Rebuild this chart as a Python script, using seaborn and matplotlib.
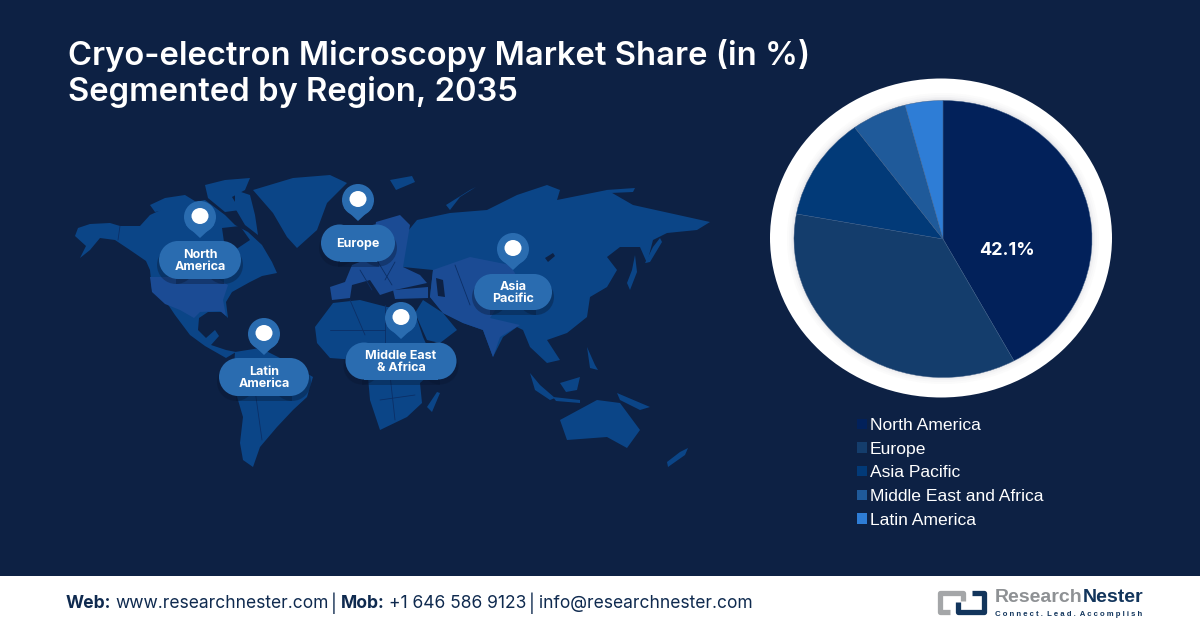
import matplotlib
matplotlib.use('Agg')
import matplotlib.pyplot as plt
import seaborn as sns
from matplotlib.patches import Ellipse, Polygon, Rectangle, Circle

# chart data
regions = ['North America', 'Europe', 'Asia Pacific', 'Middle East and Africa', 'Latin America']
shares = [42.1, 35.8, 12.0, 6.0, 4.1]
slice_colors = ['#02215A', '#143D6C', '#023A78', '#1F5A9A', '#2E7DD6']
shown_label = '42.1%'

title_lines = ['Cryo-electron Microscopy Market Share (in %)', 'Segmented by Region, 2035']
pin_labels = ['North\nAmerica', 'Europe', 'Asia\nPacific', 'Middle East\n& Africa', 'Latin\nAmerica']
pin_x = [200, 358, 513, 401, 264]
pin_y = [217, 200, 249, 318, 334]
pill_w = [82, 74, 78, 111, 90]
pill_h = [38, 37, 36, 37, 38]

BG = '#0D2144'
LAND = '#0B4587'
LAND2 = '#1B4B94'
PILL = '#2A6CB0'
NAVY = '#0F2A4F'

# hand traced backdrop map, in picture pixels
land_shapes = [
    [(75, 236), (78, 228), (90, 224), (110, 223), (120, 226), (140, 226), (150, 215), (165, 208), (180, 205),
     (205, 200), (225, 215), (235, 225), (248, 232), (262, 245), (272, 262), (277, 273), (262, 276), (250, 282),
     (232, 292), (226, 302), (228, 318), (222, 312), (208, 312), (199, 318), (198, 330), (206, 338), (215, 330),
     (219, 336), (211, 345), (226, 350), (236, 352), (226, 358), (205, 346), (190, 335), (175, 315), (165, 300),
     (152, 290), (150, 270), (146, 261), (130, 250), (115, 240), (100, 238), (90, 250), (80, 258), (86, 246)],
    [(253, 190), (293, 178), (330, 175), (347, 183), (327, 203), (317, 230), (297, 248), (287, 237), (273, 213)],
    [(205, 185), (225, 180), (250, 178), (245, 190), (232, 197), (240, 210), (225, 212), (208, 198)],
    [(150, 205), (165, 198), (185, 195), (198, 203), (175, 208), (155, 212)],
    [(235, 190), (250, 195), (255, 215), (258, 235), (245, 225), (235, 208)],
    [(235, 352), (260, 348), (280, 358), (313, 377), (307, 397), (293, 410), (277, 427), (260, 447), (253, 467),
     (243, 460), (240, 443), (243, 417), (233, 383)],
    [(315, 327), (333, 303), (360, 300), (387, 307), (413, 307), (423, 337), (437, 368), (420, 383), (422, 403),
     (407, 417), (380, 430), (370, 400), (368, 377), (357, 360), (330, 358), (317, 343)],
    [(423, 300), (443, 313), (457, 330), (440, 343), (427, 340), (415, 313)],
    [(437, 392), (440, 393), (432, 412), (427, 407)],
    [(403, 237), (417, 220), (450, 213), (487, 210), (517, 195), (547, 185), (560, 190), (557, 200), (607, 190),
     (633, 205), (710, 222), (697, 230), (667, 233), (653, 240), (647, 263), (640, 247), (620, 247), (607, 257),
     (617, 270), (607, 287), (590, 297), (587, 317), (567, 333), (547, 340), (560, 360), (547, 363), (530, 347),
     (523, 330), (517, 327), (503, 337), (493, 357), (483, 330), (463, 323), (443, 313), (430, 297), (433, 270),
     (403, 267)],
    [(560, 420), (597, 400), (620, 403), (640, 430), (627, 448), (607, 437), (567, 440)],
    [(688, 448), (685, 455), (668, 467), (667, 462), (680, 452)],
    [(530, 373), (540, 385), (555, 398), (550, 400), (535, 390)],
    [(560, 383), (580, 377), (577, 390), (566, 392)],
    [(553, 397), (580, 400), (580, 403), (556, 401)],
    [(587, 347), (595, 365), (598, 370), (590, 368)],
    [(617, 393), (650, 407), (640, 410), (620, 400)],
    [(645, 263), (653, 247), (660, 238), (662, 242), (650, 262)],
    [(635, 255), (637, 272), (630, 290), (627, 283), (632, 270)],
    [(446, 205), (470, 190), (476, 187), (460, 197), (450, 210)],
    [(390, 180), (412, 176), (415, 182), (396, 190)],
    [(606, 190), (635, 188), (633, 192), (610, 193)],
]
lighter_shapes = [
    [(150, 277), (215, 277), (228, 285), (223, 300), (226, 316), (220, 311), (200, 312), (194, 318), (180, 310),
     (165, 304), (152, 292)],
    [(433, 270), (470, 257), (510, 265), (522, 285), (503, 298), (490, 318), (520, 325), (500, 337), (493, 357),
     (483, 330), (463, 323), (443, 313), (430, 297)],
    [(376, 222), (400, 215), (410, 225), (403, 267), (420, 275), (427, 283), (395, 290), (380, 295), (370, 280),
     (352, 285), (350, 298), (332, 300), (330, 287), (345, 282), (352, 265), (370, 258)],
    [(393, 290), (428, 287), (428, 298), (395, 299)],
]
water_shapes = [
    [(222, 228), (240, 226), (250, 240), (235, 250), (224, 242)],
    [(436, 278), (443, 280), (445, 297), (438, 296)],
    [(545, 258), (553, 253), (555, 256), (548, 262)],
]
border_lines = [
    [(360, 270), (372, 290)], [(378, 262), (392, 285)], [(395, 262), (385, 280)], [(350, 300), (365, 335)],
    [(385, 305), (385, 345)], [(330, 330), (385, 330)], [(455, 265), (470, 305)], [(480, 285), (510, 300)],
    [(380, 400), (415, 395)], [(390, 375), (395, 420)], [(245, 385), (285, 390)], [(255, 390), (262, 440)],
    [(120, 226), (118, 240)],
]

sns.set_theme(style='white')
plt.rcParams['font.family'] = ['Inter', 'DejaVu Sans']

fig = plt.figure(figsize=(12, 6.28), dpi=100, facecolor=BG)
ax = fig.add_axes([0, 0, 1, 1])
ax.set_xlim(0, 1200)
ax.set_ylim(628, 0)
ax.axis('off')


def add_pill(ax, x, y, w, h, color, zorder, alpha=1.0):
    r = h / 2
    ax.add_patch(Rectangle((x - w / 2 + r, y - r), w - h, h, fc=color, ec='none', zorder=zorder, alpha=alpha))
    ax.add_patch(Ellipse((x - w / 2 + r, y), h, h, fc=color, ec='none', zorder=zorder, alpha=alpha))
    ax.add_patch(Ellipse((x + w / 2 - r, y), h, h, fc=color, ec='none', zorder=zorder, alpha=alpha))


# map
for shape in land_shapes:
    ax.add_patch(Polygon(shape, closed=True, fc=LAND, ec='none', zorder=1))
for shape in lighter_shapes:
    ax.add_patch(Polygon(shape, closed=True, fc=LAND2, ec='none', zorder=2))
for shape in water_shapes:
    ax.add_patch(Polygon(shape, closed=True, fc=BG, ec='none', zorder=2))
for line in border_lines:
    xs, ys = zip(*line)
    ax.plot(xs, ys, color='#0C2F66', lw=0.6, zorder=3)

# pins and labels
for lab, x, y, w, h in zip(pin_labels, pin_x, pin_y, pill_w, pill_h):
    ax.add_patch(Circle((x, y), 16, fc=PILL, ec='none', zorder=4))
    ax.add_patch(Polygon([(x - 14, y + 8), (x + 14, y + 8), (x, y + 21)], fc=PILL, ec='none', zorder=4))
    ax.add_patch(Ellipse((x, y - 1), 17, 16, fc='white', ec='none', zorder=5))
    cy = y + 43
    add_pill(ax, x, cy + 5, w + 4, h, '#08152E', 3, alpha=0.35)
    add_pill(ax, x, cy, w, h, PILL, 4)
    ax.text(x, cy + 1, lab, color='white', fontsize=9, fontweight='bold', ha='center', va='center',
            linespacing=0.92, zorder=6)

# title
ax.text(68, 55, title_lines[0], color='white', fontsize=23.6, fontweight='semibold', va='center', zorder=6)
ax.text(68, 92, title_lines[1], color='white', fontsize=23.6, fontweight='semibold', va='center', zorder=6)

# white ring behind the pie
ax.add_patch(Ellipse((941, 238), 342, 319, fc='white', ec='none', zorder=1))
for grow, tone in zip([14, 10, 6, 3], ['#FBFBFB', '#F7F7F8', '#F1F1F3', '#E9E9EC']):
    ax.add_patch(Ellipse((943, 238.5), 298 + grow, 277 + grow, fc=tone, ec='none', zorder=1))

# pie
pie_ax = fig.add_axes([794 / 1200, 1 - 377.5 / 628, 298 / 1200, 277 / 628])
wedges, _ = pie_ax.pie(shares, colors=sns.color_palette(slice_colors), startangle=90, counterclock=False,
                       radius=1, wedgeprops={'linewidth': 0.3, 'edgecolor': '#3A5A85'})
pie_ax.set_aspect('auto')
pie_ax.set_xlim(-1, 1)
pie_ax.set_ylim(-1, 1)
pie_ax.text(0.43, -0.08, shown_label, color='white', fontsize=13, fontweight='bold', ha='center', va='center')

# legend
leg = fig.legend(wedges, regions, loc='upper left', bbox_to_anchor=(852 / 1200, 1 - 413 / 628), frameon=False,
                 prop={'family': 'Liberation Sans', 'size': 12.6}, labelcolor='white', handlelength=0.55,
                 handleheight=0.55, handletextpad=0.17, labelspacing=0.49, borderpad=0.3, borderaxespad=0)
for h in leg.legend_handles:
    h.set_linewidth(0)

# footer
ax.add_patch(Rectangle((0, 576), 1200, 52, fc='white', ec='none', zorder=7))
footer = [(66, 'Web:', 'bold'), (115, 'www.researchnester.com', 'normal'), (331, '|', 'normal'),
          (341, 'Mob:', 'bold'), (389, '+1 646 586 9123', 'normal'), (529, '|', 'normal'),
          (539, 'info@researchnester.com', 'normal')]
for x, s, weight in footer:
    ax.text(x, 603.5, s, color=NAVY, fontsize=12.55, fontweight=weight, va='center', zorder=8)

# logo
ax.plot([963, 963, 940, 940, 950], [601, 593, 593, 612, 612], color='#A4A6A8', lw=3.8, solid_joinstyle='round',
        solid_capstyle='butt', zorder=8)
ax.plot([972, 984, 984, 958, 958], [593, 593, 612, 612, 602], color='#12355C', lw=3.8, solid_joinstyle='round',
        solid_capstyle='butt', zorder=9)
ax.text(995, 598, 'Research', color='#8E9194', fontsize=14, fontweight='bold', family='Liberation Sans', va='center',
        zorder=8)
ax.text(1083, 598, 'Nester', color='#12355C', fontsize=14, fontweight='bold', family='Liberation Sans', va='center',
        zorder=8)
ax.text(995, 614, 'C o n n e c t .  L e a d .  A c c o m p l i s h', color='#12355C', fontsize=5.6, fontweight='bold',
        family='Liberation Sans', va='center', zorder=8)

fig.savefig('out.png', dpi=100, facecolor=BG)
